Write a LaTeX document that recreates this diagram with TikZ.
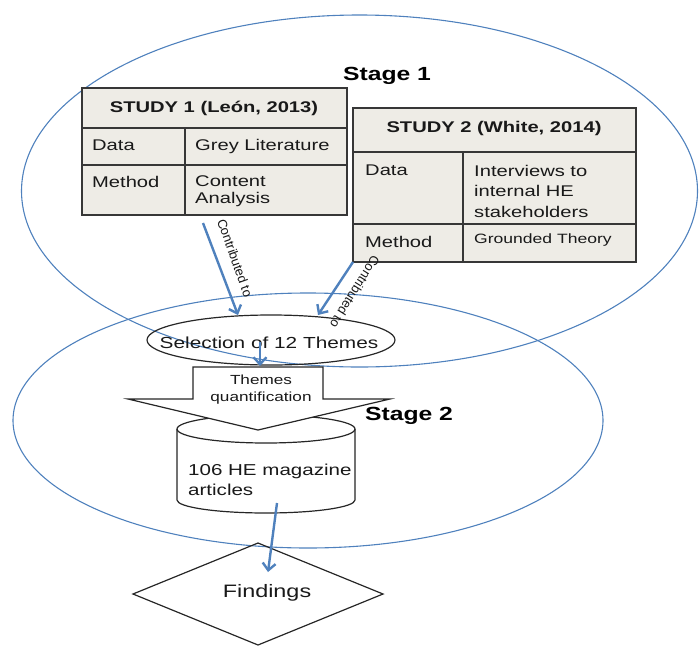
\documentclass[tikz,border=0pt]{standalone}
\usepackage{fontspec}
\setmainfont{Liberation Sans}[FakeStretch=1.3]
\newfontfamily\narrowfont{Liberation Sans}
\usetikzlibrary{arrows.meta,shapes.geometric}
\definecolor{stageblue}{RGB}{79,129,189}
\definecolor{tabfill}{RGB}{238,236,230}
\definecolor{tabline}{RGB}{55,55,55}
\definecolor{txt}{RGB}{25,25,25}
\begin{document}
\begin{tikzpicture}[x=1pt,y=-1pt,
  stageline/.style={draw=stageblue, line width=1.1pt},
  tabbox/.style={draw=tabline, fill=tabfill, line width=1.4pt, inner sep=0pt},
  tabrule/.style={draw=tabline, line width=1.4pt},
  celltext/.style={inner sep=0pt, font=\fontsize{15.5}{16.7}\selectfont, text=txt, align=left},
  headtext/.style={inner sep=0pt, font=\bfseries\fontsize{15.5}{17}\selectfont, text=txt},
  flow/.style={draw=stageblue, line width=2.4pt, -{Straight Barb[length=7pt,width=13pt]}},
  contrib/.style={inner sep=0pt, font=\narrowfont\fontsize{13}{14}\selectfont, text=txt},
  shapeline/.style={draw=black!85, line width=1.2pt},
  stagelabel/.style={inner sep=0pt, font=\bfseries\fontsize{19}{22}\selectfont, text=black}
]
\useasboundingbox (0,0) rectangle (699,646);

% stage ellipses
\draw[stageline] (359.5,191) ellipse [x radius=338pt, y radius=176pt];
\draw[stageline] (308,420.5) ellipse [x radius=295pt, y radius=127.5pt];
\node[stagelabel, anchor=base] (s1) at (387,80) {Stage 1};
\node[stagelabel, anchor=base] (s2) at (409,420) {Stage 2};

% table 1
\node[tabbox, minimum width=265pt, minimum height=127pt] (t1) at (214.5,151.5) {};
\draw[tabrule] (82,128) -- (347,128);
\draw[tabrule] (82,165) -- (347,165);
\draw[tabrule] (185,128) -- (185,215);
\node[headtext, anchor=base] (h1) at (214,112) {STUDY 1 (León, 2013)};
\node[celltext, anchor=base west] (d1) at (92,150) {Data};
\node[celltext, anchor=base west] (g1) at (195,150) {Grey Literature};
\node[celltext, anchor=base west] (m1) at (92,187) {Method};
\node[celltext, anchor=north west] (c1) at (195,175.8) {Content\\Analysis};

% table 2
\node[tabbox, minimum width=283pt, minimum height=154pt] (t2) at (494.5,185) {};
\draw[tabrule] (353,152) -- (636,152);
\draw[tabrule] (353,224) -- (636,224);
\draw[tabrule] (463,152) -- (463,262);
\node[headtext, anchor=base] (h2) at (494,132) {STUDY 2 (White, 2014)};
\node[celltext, anchor=base west] (d2) at (365,175) {Data};
\node[celltext, anchor=north west, font=\fontsize{15.5}{20.5}\selectfont] (i2) at (474,164.9) {Interviews to\\internal HE\\stakeholders};
\node[celltext, anchor=base west] (m2) at (365,247) {Method};
\node[celltext, anchor=base west, font=\fontsize{13.5}{15}\selectfont] (gt2) at (474,243) {Grounded Theory};

% selection ellipse
\node[shapeline, ellipse, minimum width=248pt, minimum height=50pt, inner sep=0pt] (sel) at (271,340) {};
\node[inner sep=0pt, anchor=base, font=\fontsize{16}{18}\selectfont, text=txt] (selt) at (269,348) {Selection of 12 Themes};

% cylinder
\draw[shapeline, fill=white] (177,429) -- (177,500)
  arc[start angle=180, end angle=360, x radius=89pt, y radius=13pt]
  -- (355,429)
  arc[start angle=0, end angle=180, x radius=89pt, y radius=14pt] -- cycle;
\draw[shapeline] (355,429) arc[start angle=0, end angle=-180, x radius=89pt, y radius=14pt];
\node[celltext, anchor=north west, font=\fontsize{15.8}{20}\selectfont] (cylt) at (188,464) {106 HE magazine\\articles};

% block arrow
\draw[shapeline, fill=white] (193,367) -- (323,367) -- (323,399) -- (390,399)
  -- (258,430) -- (128,399) -- (193,399) -- cycle;
\node[inner sep=0pt, anchor=north, align=center, font=\fontsize{13.2}{16.7}\selectfont, text=txt] (tq) at (261,375) {Themes\\quantification};

% diamond
\draw[shapeline] (258,543) -- (383,594) -- (258,645) -- (133,594) -- cycle;
\node[inner sep=0pt, anchor=base, font=\fontsize{18}{20}\selectfont, text=txt] (fin) at (267,597) {Findings};

% connectors
\coordinate (a1s) at (203,223);
\coordinate (a1e) at (238,315);
\coordinate (a2s) at (353,262);
\coordinate (a2e) at (318,315);
\coordinate (a3s) at (260,342);
\coordinate (a3e) at (260,366);
\coordinate (a4s) at (277,503);
\coordinate (a4e) at (268,572);
\draw[flow] (a1s) -- (a1e);
\draw[flow] (a2s) -- (a2e);
\draw[flow] (a3s) -- (a3e);
\draw[flow] (a4s) -- (a4e);
\node[contrib, rotate=-70.5] (l1) at (235,258) {Contributed to};
\node[contrib, rotate=-122] (l2) at (355,292) {Contributed to};
\end{tikzpicture}
\end{document}
